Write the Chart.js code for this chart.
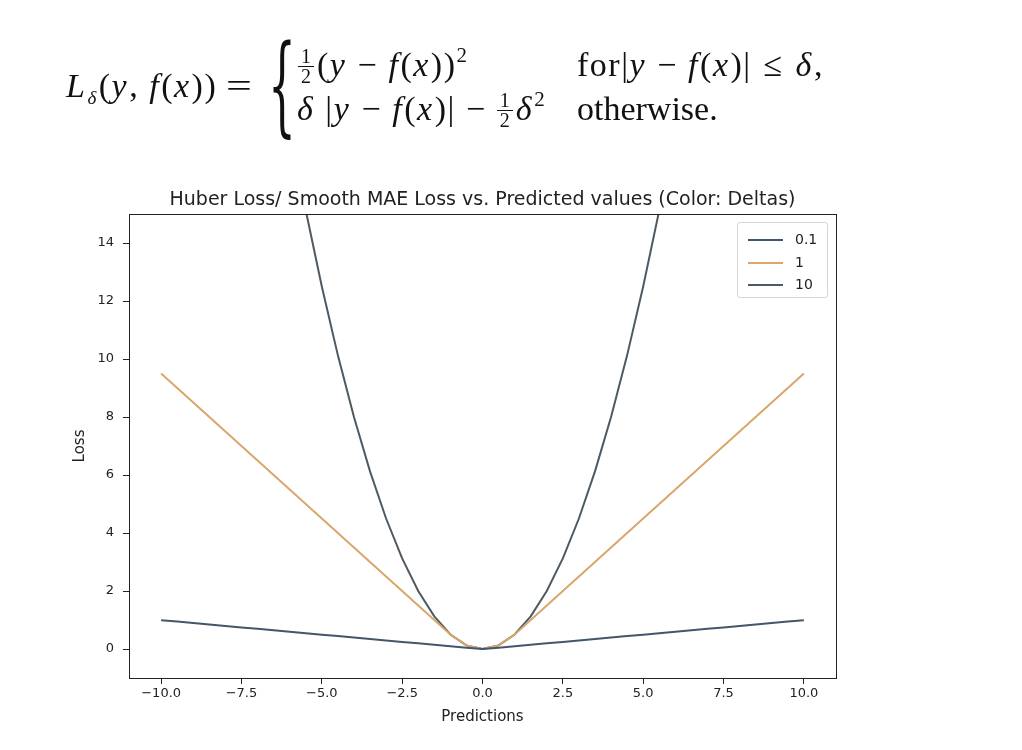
<!DOCTYPE html>
<html>
<head>
<meta charset="utf-8">
<script src="https://cdn.jsdelivr.net/npm/chart.js@4.4.0/dist/chart.umd.min.js"></script>
<style>
  body { margin: 0; background: #fff; }
  #wrap { position: relative; width: 1022px; height: 750px; overflow: hidden; }
  #chart { position: absolute; left: 0; top: 0; }
  .tex { position: absolute; font-family: "Liberation Serif", "DejaVu Serif", serif; font-size: 34px; line-height: 40px; white-space: nowrap; color: #111; letter-spacing: 1.5px; }
  .tex i { font-style: italic; margin-right: 1px; }
  .tex sub { font-size: 19px; vertical-align: -7px; line-height: 0; }
  .tex sup { font-size: 21px; vertical-align: 14px; line-height: 0; }
  .bin { margin: 0 0.3em; }
  .rel { margin: 0 0.35em; }
  .frac { display: inline-flex; flex-direction: column; align-items: center; font-size: 20px; line-height: 19px; vertical-align: 13px; margin: 0 3px 0 0; letter-spacing: 0; }
  .frac span + span { border-top: 1px solid #111; padding: 0 3px; }
  #eq { position: absolute; left: 226px; top: 66px; font-family: "Liberation Serif", serif; font-size: 34px; line-height: 40px; transform-origin: 0 50%; transform: scaleX(1.35); color: #111; }
  #brace { position: absolute; left: 268px; top: 30px; font-family: "DejaVu Serif", serif; font-size: 40px; line-height: 40px; transform-origin: 0 0; transform: scale(1.1, 2.7); color: #111; }
  #legend { position: absolute; left: 737px; top: 222px; width: 91px; height: 76px; border: 1px solid #d6d6d6; border-radius: 3px; box-sizing: border-box; background: rgba(255,255,255,0.8); font-family: "DejaVu Sans", sans-serif; font-size: 14px; color: #222; }
  #legend div { position: absolute; left: 10px; height: 20px; line-height: 20px; }
  #legend b { display: inline-block; width: 35px; height: 0; border-top: 2px solid; vertical-align: middle; margin-right: 12px; }
</style>
</head>
<body>
<div id="wrap">
  <canvas id="chart" width="1022" height="750"></canvas>
  <div class="tex" style="left:66px; top:66px;"><i>L</i><sub><i>δ</i></sub>(<i>y</i>, <i>f</i>(<i>x</i>))</div>
  <div id="eq">=</div>
  <div id="brace">{</div>
  <div class="tex" style="left:298px; top:45px;"><span class="frac"><span>1</span><span>2</span></span>(<i>y</i><span class="bin">−</span><i>f</i>(<i>x</i>))<sup>2</sup></div>
  <div class="tex" style="left:577px; top:45px;">for|<i>y</i><span class="bin">−</span><i>f</i>(<i>x</i>)|<span class="rel">≤</span><i>δ</i>,</div>
  <div class="tex" style="left:297px; top:89px;"><i>δ</i> |<i>y</i><span class="bin">−</span><i>f</i>(<i>x</i>)|<span class="bin">−</span><span class="frac"><span>1</span><span>2</span></span><i>δ</i><sup>2</sup></div>
  <div class="tex" style="left:577px; top:89px; letter-spacing:0;">otherwise.</div>
  <div id="legend"></div>
</div>
<script>
// predictions (x) and loss for each delta
const predictions = [-10, -9.5, -9, -8.5, -8, -7.5, -7, -6.5, -6, -5.5, -5, -4.5, -4, -3.5, -3, -2.5, -2, -1.5, -1, -0.5,
  0, 0.5, 1, 1.5, 2, 2.5, 3, 3.5, 4, 4.5, 5, 5.5, 6, 6.5, 7, 7.5, 8, 8.5, 9, 9.5, 10];
const lossDelta01 = [0.995, 0.945, 0.895, 0.845, 0.795, 0.745, 0.695, 0.645, 0.595, 0.545, 0.495, 0.445, 0.395, 0.345, 0.295, 0.245, 0.195, 0.145, 0.095, 0.045,
  0, 0.045, 0.095, 0.145, 0.195, 0.245, 0.295, 0.345, 0.395, 0.445, 0.495, 0.545, 0.595, 0.645, 0.695, 0.745, 0.795, 0.845, 0.895, 0.945, 0.995];
const lossDelta1 = [9.5, 9, 8.5, 8, 7.5, 7, 6.5, 6, 5.5, 5, 4.5, 4, 3.5, 3, 2.5, 2, 1.5, 1, 0.5, 0.125,
  0, 0.125, 0.5, 1, 1.5, 2, 2.5, 3, 3.5, 4, 4.5, 5, 5.5, 6, 6.5, 7, 7.5, 8, 8.5, 9, 9.5];
const lossDelta10 = [50, 45.125, 40.5, 36.125, 32, 28.125, 24.5, 21.125, 18, 15.125, 12.5, 10.125, 8, 6.125, 4.5, 3.125, 2, 1.125, 0.5, 0.125,
  0, 0.125, 0.5, 1.125, 2, 3.125, 4.5, 6.125, 8, 10.125, 12.5, 15.125, 18, 21.125, 24.5, 28.125, 32, 36.125, 40.5, 45.125, 50];
const deltaLabels = ["0.1", "1", "10"];
const xTicks = [-10, -7.5, -5, -2.5, 0, 2.5, 5, 7.5, 10];
const yTicks = [0, 2, 4, 6, 8, 10, 12, 14];
const chartTitle = "Huber Loss/ Smooth MAE Loss vs. Predicted values (Color: Deltas)";

const lineColors = ["#44566a", "#d9a66c", "#4e5a62"];
const series = [lossDelta01, lossDelta1, lossDelta10];

function pts(ys) {
  return predictions.map((x, i) => ({ x: x, y: ys[i] }));
}

function fmt(v, dec) {
  let s = Math.abs(v).toFixed(dec);
  return v < 0 ? "\u2212" + s : s;
}

// matplotlib style frame round the axes
const frame = {
  id: "frame",
  afterDatasetsDraw(chart) {
    const a = chart.chartArea, ctx = chart.ctx;
    ctx.save();
    ctx.strokeStyle = "#222";
    ctx.lineWidth = 1;
    ctx.strokeRect(Math.round(a.left) + 0.5, Math.round(a.top) + 0.5, Math.round(a.right - a.left), Math.round(a.bottom - a.top));
    ctx.restore();
  }
};

const tickFont = { family: "DejaVu Sans", size: 13 };
const labelFont = { family: "DejaVu Sans", size: 15 };
const chart = new Chart(document.getElementById("chart"), {
  type: "line",
  data: {
    datasets: series.map((s, i) => ({
      label: deltaLabels[i],
      data: pts(s),
      borderColor: lineColors[i],
      backgroundColor: lineColors[i],
      borderWidth: 2,
      pointRadius: 0,
      tension: 0,
      fill: false
    }))
  },
  options: {
    responsive: false,
    animation: false,
    layout: { padding: { left: 71, right: 186, top: 188.6, bottom: 24 } },
    plugins: {
      legend: { display: false },
      tooltip: { enabled: false }
    },
    scales: {
      x: {
        type: "linear",
        min: -11,
        max: 11,
        afterBuildTicks(s) { s.ticks = xTicks.map(v => ({ value: v })); },
        afterFit(s) { s.height = 48; },
        grid: { drawOnChartArea: false, tickLength: 6, color: "#222" },
        border: { display: false },
        ticks: { font: tickFont, color: "#222", padding: 2, maxRotation: 0, callback: v => fmt(v, 1) },
        title: { display: true, text: "Predictions", color: "#222", font: labelFont, padding: 0 }
      },
      // top axis only carries the title, so it is centred over the plot area
      top: {
        type: "linear",
        position: "top",
        min: -11,
        max: 11,
        afterFit(s) { s.height = 25.4; },
        grid: { display: false },
        border: { display: false },
        ticks: { display: false },
        title: { display: true, text: chartTitle, color: "#222", font: { family: "DejaVu Sans", size: 19 }, padding: 0 }
      },
      y: {
        min: -1,
        max: 15,
        afterBuildTicks(s) { s.ticks = yTicks.map(v => ({ value: v })); },
        afterFit(s) { s.width = 58; },
        grid: { drawOnChartArea: false, tickLength: 6, color: "#222" },
        border: { display: false },
        ticks: { font: tickFont, color: "#222", padding: 9, callback: v => fmt(v, 0) },
        title: { display: true, text: "Loss", color: "#222", font: labelFont, padding: 0 }
      }
    }
  },
  plugins: [frame]
});

// legend box inside the axes, built from the datasets
const legend = document.getElementById("legend");
chart.data.datasets.forEach((d, i) => {
  const row = document.createElement("div");
  row.style.top = (6 + i * 22.5) + "px";
  row.innerHTML = '<b style="border-color:' + d.borderColor + '"></b>' + d.label;
  legend.appendChild(row);
});
</script>
</body>
</html>
